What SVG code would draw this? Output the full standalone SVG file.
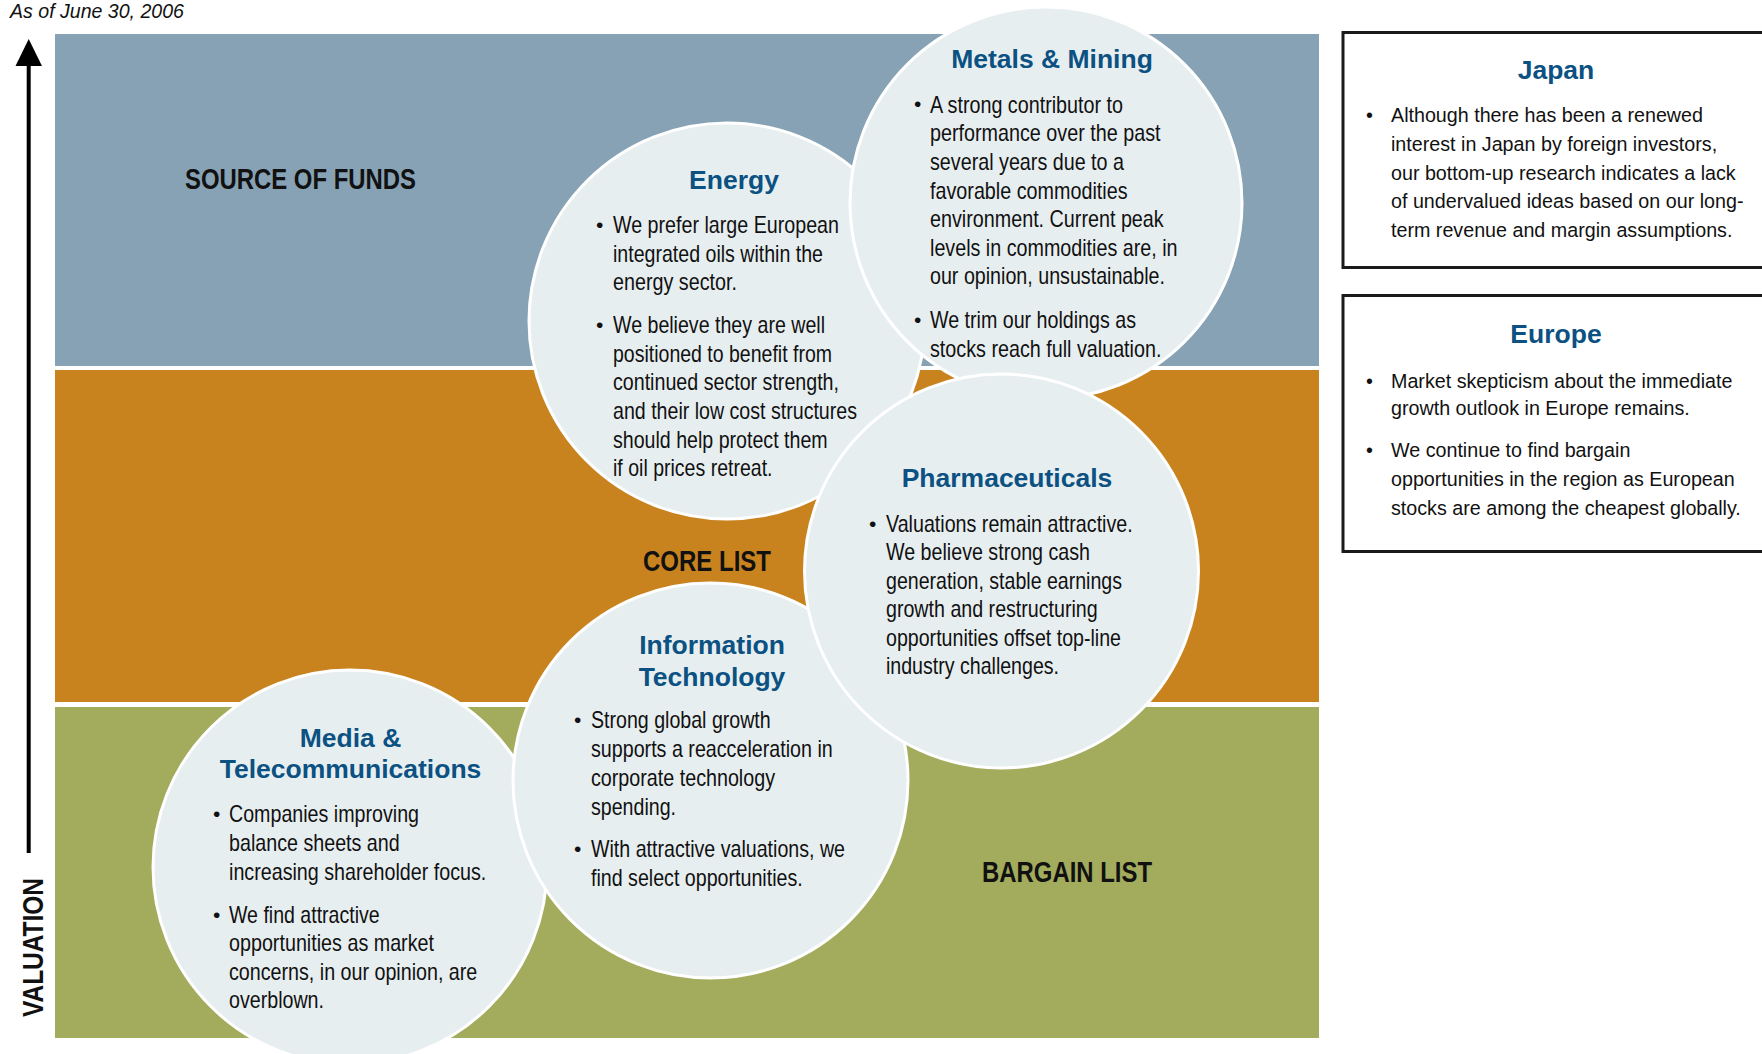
<svg xmlns="http://www.w3.org/2000/svg" width="1762" height="1054" viewBox="0 0 1762 1054">
  <style>
    .band-label { font-family: "Liberation Sans Narrow", "Liberation Sans", sans-serif; font-weight: bold; font-size: 29px; fill: #111; }
    .bubble { fill: #E7EEF0; stroke: #FFFFFF; stroke-width: 3; }
    .title { font-family: "Liberation Sans", Arial, sans-serif; font-weight: bold; font-size: 26.5px; fill: #0B5182; text-anchor: middle; }
    .body { font-family: "Liberation Sans Narrow", "Liberation Sans", sans-serif; font-size: 24px; fill: #111; }
    .dot { font-family: "Liberation Sans Narrow", "Liberation Sans", sans-serif; font-size: 21px; fill: #111; }
    .box { fill: #FFFFFF; stroke: #1A1A1A; stroke-width: 3; }
    .box-text { font-family: "Liberation Sans", Arial, sans-serif; font-size: 19.7px; fill: #111; }
    .date { font-family: "Liberation Sans Narrow", "Liberation Sans", sans-serif; font-style: italic; font-size: 21px; fill: #111; }
  </style>

  <rect width="1762" height="1054" fill="#FFFFFF"/>

  <text class="date" x="10" y="18" textLength="174" lengthAdjust="spacingAndGlyphs">As of June 30, 2006</text>

  <!-- valuation axis -->
  <g id="axis">
    <line x1="28.7" y1="60" x2="28.7" y2="853" stroke="#000" stroke-width="4"/>
    <polygon points="28.7,39 15.5,66 42,66" fill="#000"/>
    <text class="band-label" transform="translate(42.7,947.5) rotate(-90)" text-anchor="middle" font-size="30" textLength="139" lengthAdjust="spacingAndGlyphs">VALUATION</text>
  </g>

  <!-- horizontal bands -->
  <g id="bands">
    <rect x="55" y="34" width="1264" height="332" fill="#86A2B4"/>
    <rect x="55" y="370" width="1264" height="332" fill="#C8831F"/>
    <rect x="55" y="707" width="1264" height="331" fill="#A3AB5C"/>
    <text class="band-label" x="185" y="189" textLength="231" lengthAdjust="spacingAndGlyphs">SOURCE OF FUNDS</text>
    <text class="band-label" x="643" y="571" textLength="128" lengthAdjust="spacingAndGlyphs">CORE LIST</text>
    <text class="band-label" x="982" y="882" textLength="170" lengthAdjust="spacingAndGlyphs">BARGAIN LIST</text>
  </g>

  <!-- sector bubbles -->
  <g id="media">
    <circle class="bubble" cx="350" cy="867" r="197"/>
    <text class="title" x="350.5" y="747">Media &amp;</text>
    <text class="title" x="350.5" y="778">Telecommunications</text>
    <text class="dot" x="213" y="820.5">•</text>
    <text class="body" x="229" y="821.7" textLength="190" lengthAdjust="spacingAndGlyphs">Companies improving</text>
    <text class="body" x="229" y="850.7" textLength="170.7" lengthAdjust="spacingAndGlyphs">balance sheets and</text>
    <text class="body" x="229" y="879.5" textLength="257.3" lengthAdjust="spacingAndGlyphs">increasing shareholder focus.</text>
    <text class="dot" x="213" y="921.5">•</text>
    <text class="body" x="229" y="922.7" textLength="150.7" lengthAdjust="spacingAndGlyphs">We find attractive</text>
    <text class="body" x="229" y="950.8" textLength="205" lengthAdjust="spacingAndGlyphs">opportunities as market</text>
    <text class="body" x="229" y="979.6" textLength="248.3" lengthAdjust="spacingAndGlyphs">concerns, in our opinion, are</text>
    <text class="body" x="229" y="1007.8" textLength="95" lengthAdjust="spacingAndGlyphs">overblown.</text>
  </g>

  <g id="info-tech">
    <circle class="bubble" cx="710.5" cy="780.5" r="197.5"/>
    <text class="title" x="712" y="654">Information</text>
    <text class="title" x="712" y="686">Technology</text>
    <text class="dot" x="574" y="726.8">•</text>
    <text class="body" x="591" y="728" textLength="179.7" lengthAdjust="spacingAndGlyphs">Strong global growth</text>
    <text class="body" x="591" y="757.3" textLength="241.7" lengthAdjust="spacingAndGlyphs">supports a reacceleration in</text>
    <text class="body" x="591" y="786" textLength="184" lengthAdjust="spacingAndGlyphs">corporate technology</text>
    <text class="body" x="591" y="814.5" textLength="85" lengthAdjust="spacingAndGlyphs">spending.</text>
    <text class="dot" x="574" y="855.8">•</text>
    <text class="body" x="591" y="857" textLength="254" lengthAdjust="spacingAndGlyphs">With attractive valuations, we</text>
    <text class="body" x="591" y="885.5" textLength="211.7" lengthAdjust="spacingAndGlyphs">find select opportunities.</text>
  </g>

  <g id="energy">
    <circle class="bubble" cx="727" cy="321" r="198"/>
    <text class="title" x="734" y="189">Energy</text>
    <text class="dot" x="596" y="231.8">•</text>
    <text class="body" x="613" y="233" textLength="226" lengthAdjust="spacingAndGlyphs">We prefer large European</text>
    <text class="body" x="613" y="261.5" textLength="210" lengthAdjust="spacingAndGlyphs">integrated oils within the</text>
    <text class="body" x="613" y="290" textLength="124" lengthAdjust="spacingAndGlyphs">energy sector.</text>
    <text class="dot" x="596" y="331.8">•</text>
    <text class="body" x="613" y="333" textLength="212" lengthAdjust="spacingAndGlyphs">We believe they are well</text>
    <text class="body" x="613" y="361.7" textLength="219" lengthAdjust="spacingAndGlyphs">positioned to benefit from</text>
    <text class="body" x="613" y="390.3" textLength="226" lengthAdjust="spacingAndGlyphs">continued sector strength,</text>
    <text class="body" x="613" y="419" textLength="244" lengthAdjust="spacingAndGlyphs">and their low cost structures</text>
    <text class="body" x="613" y="447.5" textLength="214.6" lengthAdjust="spacingAndGlyphs">should help protect them</text>
    <text class="body" x="613" y="476" textLength="159.5" lengthAdjust="spacingAndGlyphs">if oil prices retreat.</text>
  </g>

  <g id="metals-mining">
    <circle class="bubble" cx="1046" cy="203" r="196"/>
    <text class="title" x="1052" y="68">Metals &amp; Mining</text>
    <text class="dot" x="914" y="111.3">•</text>
    <text class="body" x="930" y="112.5" textLength="193" lengthAdjust="spacingAndGlyphs">A strong contributor to</text>
    <text class="body" x="930" y="141.3" textLength="230.5" lengthAdjust="spacingAndGlyphs">performance over the past</text>
    <text class="body" x="930" y="170" textLength="194" lengthAdjust="spacingAndGlyphs">several years due to a</text>
    <text class="body" x="930" y="198.7" textLength="197.5" lengthAdjust="spacingAndGlyphs">favorable commodities</text>
    <text class="body" x="930" y="227.3" textLength="233.7" lengthAdjust="spacingAndGlyphs">environment. Current peak</text>
    <text class="body" x="930" y="255.8" textLength="247.5" lengthAdjust="spacingAndGlyphs">levels in commodities are, in</text>
    <text class="body" x="930" y="284.4" textLength="235" lengthAdjust="spacingAndGlyphs">our opinion, unsustainable.</text>
    <text class="dot" x="914" y="326.8">•</text>
    <text class="body" x="930" y="328" textLength="206" lengthAdjust="spacingAndGlyphs">We trim our holdings as</text>
    <text class="body" x="930" y="356.5" textLength="231.4" lengthAdjust="spacingAndGlyphs">stocks reach full valuation.</text>
  </g>

  <g id="pharmaceuticals">
    <circle class="bubble" cx="1001.5" cy="571" r="197"/>
    <text class="title" x="1007" y="487">Pharmaceuticals</text>
    <text class="dot" x="869" y="530.5">•</text>
    <text class="body" x="886" y="531.7" textLength="246.7" lengthAdjust="spacingAndGlyphs">Valuations remain attractive.</text>
    <text class="body" x="886" y="560" textLength="204" lengthAdjust="spacingAndGlyphs">We believe strong cash</text>
    <text class="body" x="886" y="588.5" textLength="236" lengthAdjust="spacingAndGlyphs">generation, stable earnings</text>
    <text class="body" x="886" y="617" textLength="211.7" lengthAdjust="spacingAndGlyphs">growth and restructuring</text>
    <text class="body" x="886" y="645.5" textLength="235" lengthAdjust="spacingAndGlyphs">opportunities offset top-line</text>
    <text class="body" x="886" y="673.7" textLength="173" lengthAdjust="spacingAndGlyphs">industry challenges.</text>
  </g>

  <!-- regional notes -->
  <g id="japan">
    <rect class="box" x="1343" y="32.5" width="440" height="235"/>
    <text class="title" x="1556" y="78.7">Japan</text>
    <text class="box-text" x="1366" y="121.8">•</text>
    <text class="box-text" x="1391" y="121.8">Although there has been a renewed</text>
    <text class="box-text" x="1391" y="150.6">interest in Japan by foreign investors,</text>
    <text class="box-text" x="1391" y="179.5">our bottom-up research indicates a lack</text>
    <text class="box-text" x="1391" y="208.2">of undervalued ideas based on our long-</text>
    <text class="box-text" x="1391" y="236.8">term revenue and margin assumptions.</text>
  </g>

  <g id="europe">
    <rect class="box" x="1343" y="295.5" width="440" height="256"/>
    <text class="title" x="1556" y="342.7">Europe</text>
    <text class="box-text" x="1366" y="387.5">•</text>
    <text class="box-text" x="1391" y="387.5">Market skepticism about the immediate</text>
    <text class="box-text" x="1391" y="414.5">growth outlook in Europe remains.</text>
    <text class="box-text" x="1366" y="457">•</text>
    <text class="box-text" x="1391" y="457">We continue to find bargain</text>
    <text class="box-text" x="1391" y="486.3">opportunities in the region as European</text>
    <text class="box-text" x="1391" y="515">stocks are among the cheapest globally.</text>
  </g>
</svg>
